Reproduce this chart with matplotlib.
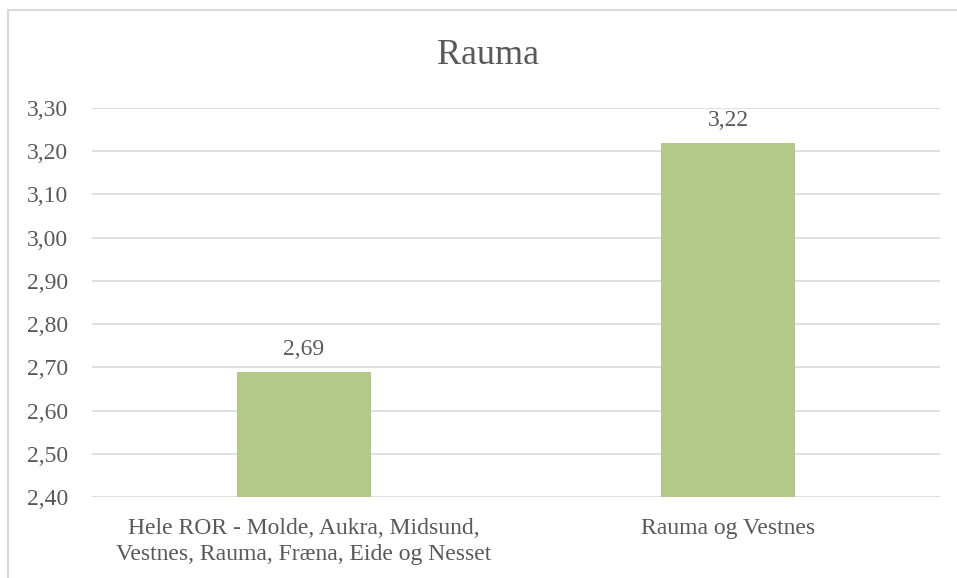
import matplotlib.pyplot as plt
from matplotlib.lines import Line2D

# data
categories = ["Hele ROR - Molde, Aukra, Midsund,\nVestnes, Rauma, Fræna, Eide og Nesset",
              "Rauma og Vestnes"]
values = [2.69, 3.22]
yticks = [2.40, 2.50, 2.60, 2.70, 2.80, 2.90, 3.00, 3.10, 3.20, 3.30]

plt.rcParams['font.family'] = ['Liberation Serif', 'DejaVu Serif']
txt = '#595959'

fig = plt.figure(figsize=(9.57, 5.78), dpi=100)
ax = fig.add_axes([92/957, 1-497/578, 848/957, 389/578])

x = range(len(categories))
bars = ax.bar(x, values, width=0.314, color='#B3C98A', zorder=3)
ax.set_xlim(-0.5, 1.5)
ax.set_ylim(2.40, 3.30)

ax.set_yticks(yticks)
ax.set_yticklabels([f"{v:.2f}".replace('.', ',') for v in yticks])
ax.set_xticks(list(x))
ax.set_xticklabels(categories, linespacing=1.35)
ax.tick_params(axis='y', length=0, pad=17, labelsize=17, labelcolor=txt)
ax.tick_params(axis='x', length=0, pad=15, labelsize=17, labelcolor=txt)
ax.grid(axis='y', color='#D9D9D9', linewidth=1.2, zorder=0)
for s in ax.spines.values():
    s.set_visible(False)

for i, v in enumerate(values):
    ax.annotate(f"{v:.2f}".replace('.', ','), (i, v), xytext=(0, 12),
                textcoords='offset points', ha='center', va='baseline',
                fontsize=17, color=txt)

fig.text(488/957, 1-64/578, "Rauma", ha='center', va='baseline', fontsize=26, color=txt)

# chart frame (cut off at right and bottom)
fig.add_artist(Line2D([8/957, 8/957], [0, 1-10/578], color='#D9D9D9', lw=1.5))
fig.add_artist(Line2D([8/957, 1], [1-10/578, 1-10/578], color='#D9D9D9', lw=1.5))

fig.savefig('out.png', dpi=100)
